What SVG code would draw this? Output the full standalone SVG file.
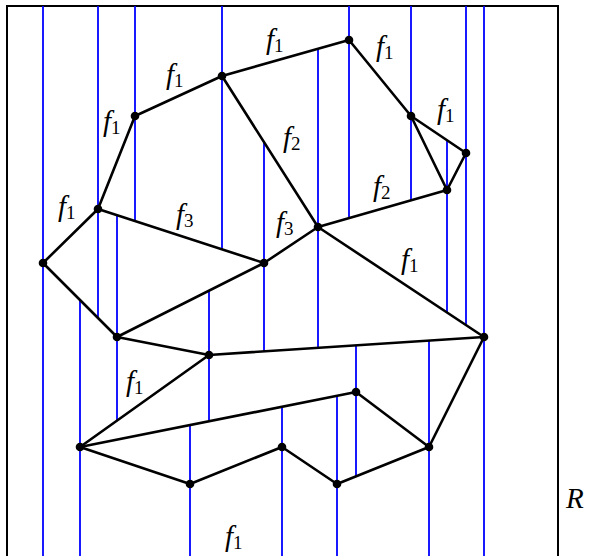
<svg xmlns="http://www.w3.org/2000/svg" width="591" height="556" viewBox="0 0 591 556">
<style>
.frame{fill:none;stroke:#000;stroke-width:2}
.sweep line{stroke:#0000ff;stroke-width:1.8}
.edges line{stroke:#000;stroke-width:2.6;stroke-linecap:round}
.v{fill:#000}
.lbl{font-family:"Liberation Serif",serif;font-style:italic;font-size:29px;fill:#000}
.sub{font-style:normal;font-size:19px}
</style>
<rect width="591" height="556" fill="#fff"/>
<path class="frame" d="M7,557 V6 H558 V557"/>
<text class="lbl" x="566" y="508">R</text>
<g class="sweep" id="sweep-lines">
<line x1="43" y1="6" x2="43" y2="556"/>
<line x1="98" y1="6" x2="98" y2="318"/>
<line x1="117" y1="215" x2="117" y2="421"/>
<line x1="135" y1="6" x2="135" y2="221"/>
<line x1="80" y1="300" x2="80" y2="556"/>
<line x1="222" y1="6" x2="222" y2="249"/>
<line x1="264" y1="142" x2="264" y2="351"/>
<line x1="209" y1="291" x2="209" y2="421"/>
<line x1="190" y1="425" x2="190" y2="556"/>
<line x1="282" y1="407" x2="282" y2="556"/>
<line x1="318" y1="49" x2="318" y2="348"/>
<line x1="349" y1="6" x2="349" y2="218"/>
<line x1="411" y1="6" x2="411" y2="200"/>
<line x1="447" y1="140" x2="447" y2="312"/>
<line x1="466" y1="6" x2="466" y2="325"/>
<line x1="484" y1="6" x2="484" y2="556"/>
<line x1="356" y1="345" x2="356" y2="476"/>
<line x1="337" y1="396" x2="337" y2="556"/>
<line x1="429" y1="341" x2="429" y2="556"/>
</g>
<g class="edges" id="connectors">
<line x1="43" y1="263" x2="98" y2="209"/>
<line x1="98" y1="209" x2="135" y2="116"/>
<line x1="135" y1="116" x2="222" y2="76"/>
<line x1="222" y1="76" x2="349" y2="40"/>
<line x1="349" y1="40" x2="411" y2="116"/>
<line x1="411" y1="116" x2="466" y2="153"/>
<line x1="411" y1="116" x2="447" y2="190"/>
<line x1="466" y1="153" x2="447" y2="190"/>
<line x1="447" y1="190" x2="318" y2="227"/>
<line x1="222" y1="76" x2="318" y2="227"/>
<line x1="318" y1="227" x2="264" y2="263"/>
<line x1="98" y1="209" x2="264" y2="263"/>
<line x1="43" y1="263" x2="117" y2="337"/>
<line x1="117" y1="337" x2="264" y2="263"/>
<line x1="117" y1="337" x2="209" y2="355"/>
<line x1="209" y1="355" x2="484" y2="337"/>
<line x1="318" y1="227" x2="484" y2="337"/>
<line x1="209" y1="355" x2="80" y2="447"/>
<line x1="80" y1="447" x2="356" y2="392"/>
<line x1="356" y1="392" x2="429" y2="447"/>
<line x1="429" y1="447" x2="484" y2="337"/>
<line x1="80" y1="447" x2="190" y2="484"/>
<line x1="190" y1="484" x2="282" y2="447"/>
<line x1="282" y1="447" x2="337" y2="484"/>
<line x1="337" y1="484" x2="429" y2="447"/>
</g>
<g id="vA"><circle class="v" cx="43" cy="263" r="4.3"/></g>
<g id="vB"><circle class="v" cx="98" cy="209" r="4.3"/></g>
<g id="vC"><circle class="v" cx="135" cy="116" r="4.3"/></g>
<g id="vD"><circle class="v" cx="222" cy="76" r="4.3"/></g>
<g id="vE"><circle class="v" cx="349" cy="40" r="4.3"/></g>
<g id="vF"><circle class="v" cx="411" cy="116" r="4.3"/></g>
<g id="vG"><circle class="v" cx="466" cy="153" r="4.3"/></g>
<g id="vH"><circle class="v" cx="447" cy="190" r="4.3"/></g>
<g id="vI"><circle class="v" cx="318" cy="227" r="4.3"/></g>
<g id="vJ"><circle class="v" cx="264" cy="263" r="4.3"/></g>
<g id="vK"><circle class="v" cx="117" cy="337" r="4.3"/></g>
<g id="vL"><circle class="v" cx="209" cy="355" r="4.3"/></g>
<g id="vM"><circle class="v" cx="484" cy="337" r="4.3"/></g>
<g id="vN"><circle class="v" cx="80" cy="447" r="4.3"/></g>
<g id="vO"><circle class="v" cx="190" cy="484" r="4.3"/></g>
<g id="vP"><circle class="v" cx="282" cy="447" r="4.3"/></g>
<g id="vQ"><circle class="v" cx="356" cy="392" r="4.3"/></g>
<g id="vS"><circle class="v" cx="429" cy="447" r="4.3"/></g>
<g id="vT"><circle class="v" cx="337" cy="484" r="4.3"/></g>
<g id="labels">
<text class="lbl" x="266" y="49">f<tspan class="sub" dy="3">1</tspan></text>
<text class="lbl" x="166" y="84">f<tspan class="sub" dy="3">1</tspan></text>
<text class="lbl" x="103" y="131">f<tspan class="sub" dy="3">1</tspan></text>
<text class="lbl" x="58" y="216">f<tspan class="sub" dy="3">1</tspan></text>
<text class="lbl" x="376" y="56">f<tspan class="sub" dy="3">1</tspan></text>
<text class="lbl" x="437" y="119">f<tspan class="sub" dy="3">1</tspan></text>
<text class="lbl" x="283" y="147">f<tspan class="sub" dy="3">2</tspan></text>
<text class="lbl" x="373" y="196">f<tspan class="sub" dy="3">2</tspan></text>
<text class="lbl" x="176" y="224">f<tspan class="sub" dy="3">3</tspan></text>
<text class="lbl" x="276" y="232">f<tspan class="sub" dy="3">3</tspan></text>
<text class="lbl" x="401" y="269">f<tspan class="sub" dy="3">1</tspan></text>
<text class="lbl" x="126" y="391">f<tspan class="sub" dy="3">1</tspan></text>
<text class="lbl" x="225" y="546">f<tspan class="sub" dy="3">1</tspan></text>
</g>
</svg>
